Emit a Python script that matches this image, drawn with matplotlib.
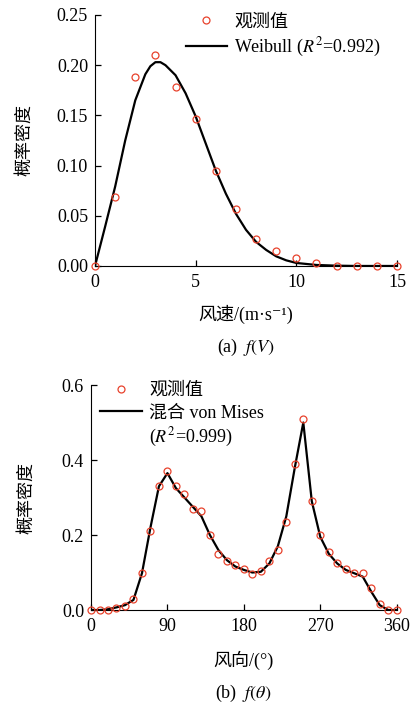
import matplotlib

matplotlib.use("Agg")
import matplotlib.pyplot as plt
from matplotlib.lines import Line2D

plt.rcParams["font.family"] = ["Liberation Serif", "Noto Sans CJK SC", "DejaVu Sans"]
plt.rcParams["mathtext.fontset"] = "stix"
plt.rcParams["font.size"] = 13

# (a) wind speed distribution
speed_obs = [0, 1, 2, 3, 4, 5, 6, 7, 8, 9, 10, 11, 12, 13, 14, 15]
dens_speed_obs = [0.0, 0.069, 0.188, 0.21, 0.178, 0.146, 0.095, 0.057,
                  0.027, 0.015, 0.008, 0.003, 0.0, 0.0, 0.0, 0.0]
speed_fit = [0, 0.5, 1, 1.5, 2, 2.5, 2.75, 3, 3.25, 3.5, 4, 4.5, 5, 5.5, 6,
             6.5, 7, 7.5, 8, 8.5, 9, 9.5, 10, 11, 12, 13, 15]
dens_speed_fit = [0.0, 0.039, 0.079, 0.125, 0.165, 0.191, 0.199, 0.203,
                  0.203, 0.200, 0.190, 0.172, 0.149, 0.122, 0.095, 0.072,
                  0.052, 0.036, 0.024, 0.016, 0.0096, 0.0056, 0.003, 0.001,
                  0.0003, 0.0, 0.0]

# (b) wind direction distribution
dir_deg = [0, 10, 20, 30, 40, 50, 60, 70, 80, 90, 100, 110, 120, 130, 140,
           150, 160, 170, 180, 190, 200, 210, 220, 230, 240, 250, 260, 270,
           280, 290, 300, 310, 320, 330, 340, 350, 360]
dens_dir_obs = [0.0, 0.0, 0.0, 0.005, 0.012, 0.03, 0.10, 0.21, 0.33, 0.37,
                0.33, 0.31, 0.27, 0.265, 0.20, 0.15, 0.13, 0.12, 0.11, 0.095,
                0.105, 0.13, 0.16, 0.235, 0.39, 0.51, 0.29, 0.20, 0.155,
                0.125, 0.11, 0.10, 0.10, 0.06, 0.015, 0.0, 0.0]
dens_dir_fit = [0.0, 0.0, 0.002, 0.007, 0.013, 0.027, 0.098, 0.22, 0.33,
                0.365, 0.325, 0.30, 0.275, 0.25, 0.20, 0.16, 0.133, 0.116,
                0.107, 0.10, 0.102, 0.124, 0.17, 0.25, 0.38, 0.50, 0.29,
                0.195, 0.15, 0.124, 0.107, 0.098, 0.089, 0.049, 0.013, 0.0, 0.0]

RED = "#e8422c"

fig = plt.figure(figsize=(4.12, 7.04), dpi=100)
ax1 = fig.add_axes([0.2306, 0.6222, 0.733, 0.3565])
ax2 = fig.add_axes([0.2209, 0.1335, 0.7420, 0.3196])

for ax in (ax1, ax2):
    ax.spines["top"].set_visible(False)
    ax.spines["right"].set_visible(False)
    ax.tick_params(direction="in", length=4, width=0.9, labelsize=13)
    ax.tick_params(axis="x", pad=6)
    ax.tick_params(axis="y", pad=5)

leg_kw = dict(frameon=False, handlelength=2.3, handletextpad=0.4,
              labelspacing=0.28, borderaxespad=0, borderpad=0, fontsize=13)

# panel (a)
ax1.plot(speed_obs, dens_speed_obs, "o", ms=5, mfc="none", mec=RED, mew=0.9,
         label="观测值", clip_on=False, zorder=3)
ax1.plot(speed_fit, dens_speed_fit, color="black", lw=1.6,
         label="Weibull ($R^2$=0.992)")
ax1.set_xlim(0, 15)
ax1.set_ylim(0, 0.25)
ax1.set_xticks([0, 5, 10, 15])
ax1.set_yticks([0, 0.05, 0.10, 0.15, 0.20, 0.25])
ax1.set_yticklabels(["0.00", "0.05", "0.10", "0.15", "0.20", "0.25"])
ax1.set_ylabel("概率密度")
ax1.yaxis.set_label_coords(-0.205, 0.5)
ax1.set_xlabel("风速/(m·s⁻¹)")
ax1.xaxis.set_label_coords(0.5, -0.155)
ax1.text(0.5, -0.323, "(a)  $f(V)$", transform=ax1.transAxes, ha="center",
         va="center")
ax1.legend(loc="upper left", bbox_to_anchor=(0.30, 1.005), **leg_kw)

# panel (b)
h_obs, = ax2.plot(dir_deg, dens_dir_obs, "o", ms=5, mfc="none", mec=RED,
                  mew=0.9, clip_on=False, zorder=3)
h_fit, = ax2.plot(dir_deg, dens_dir_fit, color="black", lw=1.6)
h_blank = Line2D([], [], color="none")
ax2.set_xlim(0, 360)
ax2.set_ylim(0, 0.6)
ax2.set_xticks([0, 90, 180, 270, 360])
ax2.set_yticks([0, 0.2, 0.4, 0.6])
ax2.set_yticklabels(["0.0", "0.2", "0.4", "0.6"])
ax2.set_ylabel("概率密度")
ax2.yaxis.set_label_coords(-0.184, 0.5)
ax2.set_xlabel("风向/(°)")
ax2.xaxis.set_label_coords(0.5, -0.182)
ax2.text(0.5, -0.369, "(b)  $f(\\theta)$", transform=ax2.transAxes,
         ha="center", va="center")
ax2.legend([h_obs, h_fit, h_blank],
           ["观测值", "混合 von Mises", "($R^2$=0.999)"],
           loc="upper left", bbox_to_anchor=(0.03, 1.013), **leg_kw)

fig.savefig("out.png", dpi=100)
